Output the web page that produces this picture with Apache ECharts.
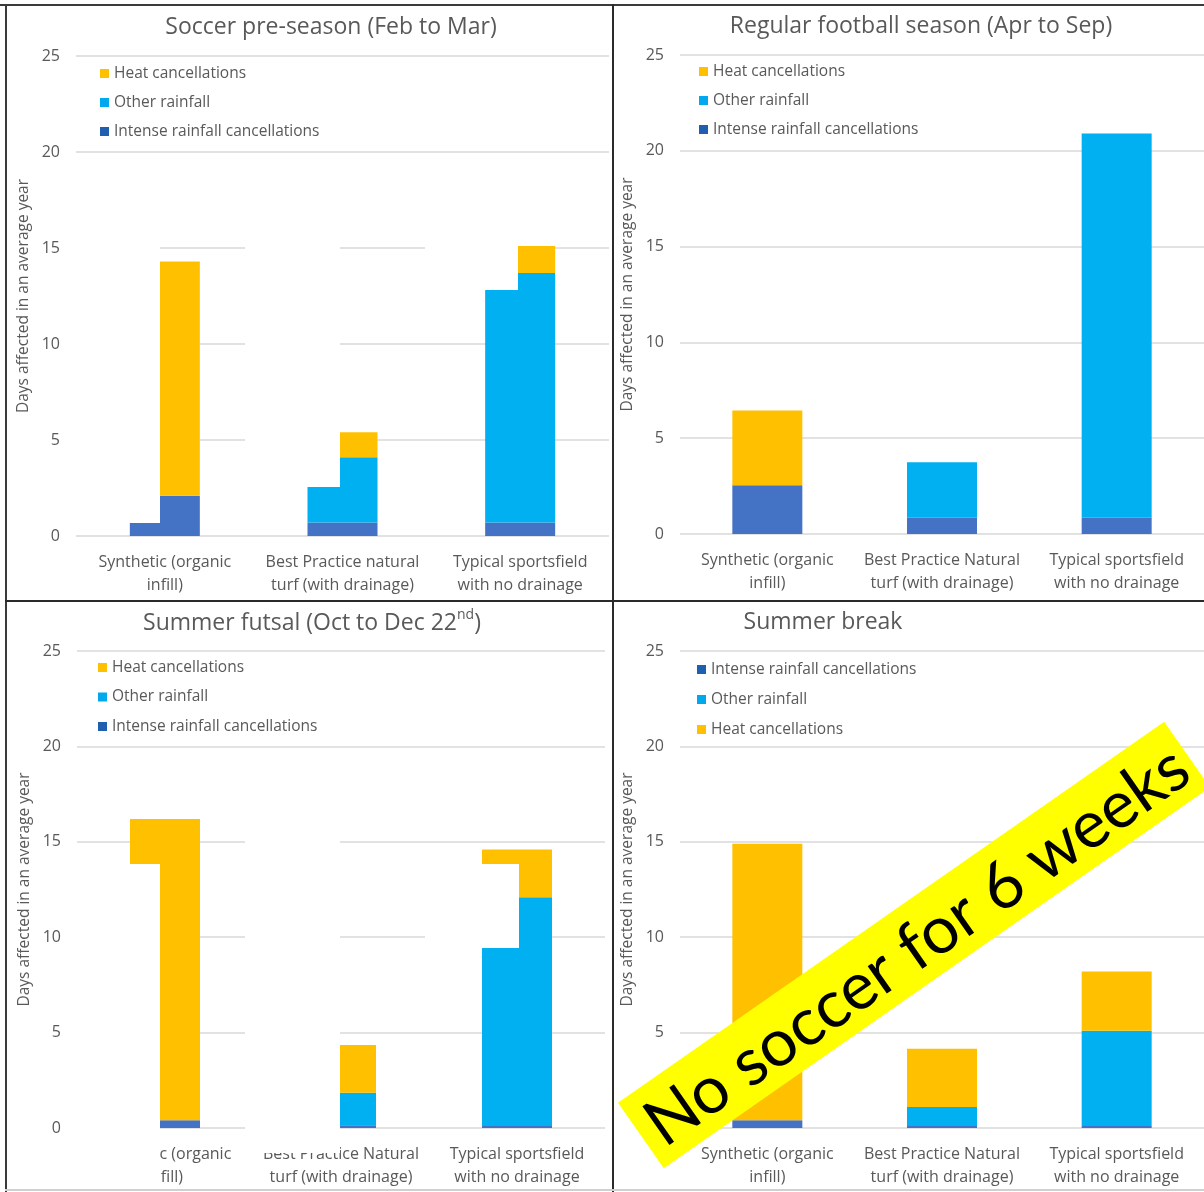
<!DOCTYPE html>
<html>
<head>
<meta charset="utf-8">
<script src="https://cdn.jsdelivr.net/npm/echarts@6/dist/echarts.min.js"></script>
<style>
  html, body { margin: 0; padding: 0; background: #fff; }
  #chart { width: 1204px; height: 1192px; }
</style>
</head>
<body>
<div id="chart"></div>
<script>
// category labels (the pre-season chart has a lower-case "natural")
const catsPreSeason = ['Synthetic (organic\ninfill)', 'Best Practice natural\nturf (with drainage)', 'Typical sportsfield\nwith no drainage']
const catsOther = ['Synthetic (organic\ninfill)', 'Best Practice Natural\nturf (with drainage)', 'Typical sportsfield\nwith no drainage']

// y axis ticks: 0 .. 25 step 5
const yMin = 0
const yMax = 25
const yStep = 5

const INTENSE = 'Intense rainfall cancellations'
const OTHER = 'Other rainfall'
const HEAT = 'Heat cancellations'

// days affected in an average year: [synthetic, best practice, typical]
const preIntense = [2.1, 0.7, 0.7]
const preOther = [0, 3.4, 13.0]
const preHeat = [12.2, 1.3, 1.4]

const regIntense = [2.55, 0.85, 0.85]
const regOther = [0, 2.9, 20.05]
const regHeat = [3.9, 0, 0]

const futIntense = [0.4, 0.15, 0.1]
const futOther = [0, 1.7, 12.0]
const futHeat = [15.8, 2.5, 2.5]

const brkIntense = [0.4, 0.1, 0.1]
const brkOther = [0, 1.0, 5.0]
const brkHeat = [14.5, 3.05, 3.1]

const colors = { [INTENSE]: '#4472C4', [OTHER]: '#00B0F0', [HEAT]: '#FFC000' }
const legendIconColors = { [INTENSE]: '#1F5FB0', [OTHER]: '#00A8EE', [HEAT]: '#FFC000' }
const textColor = '#595959'
const fontFamily = '"Open Sans", Lato, sans-serif'

const panels = [
  {
    title: 'Soccer pre-season (Feb to Mar)', titleX: 331, titleY: 12,
    grid: { left: 76, top: 56, width: 533, height: 480 },
    cats: catsPreSeason, data: [preIntense, preOther, preHeat],
    legendX: 100, legendY: 64, legendGap: 10, legendOrder: [HEAT, OTHER, INTENSE],
  },
  {
    title: 'Regular football season (Apr to Sep)', titleX: 921, titleY: 11,
    grid: { left: 680, top: 55, width: 533, height: 479 },
    cats: catsOther, data: [regIntense, regOther, regHeat],
    legendX: 699, legendY: 62, legendGap: 10, legendOrder: [HEAT, OTHER, INTENSE],
  },
  {
    title: 'Summer futsal (Oct to Dec 22{sup|nd})', titleX: 312, titleY: 608,
    grid: { left: 77, top: 651, width: 528, height: 477 },
    cats: catsOther, data: [futIntense, futOther, futHeat],
    legendX: 98, legendY: 658, legendGap: 10.5, legendOrder: [HEAT, OTHER, INTENSE],
  },
  {
    title: 'Summer break', titleX: 823, titleY: 607,
    grid: { left: 680, top: 651, width: 530, height: 477 },
    cats: catsOther, data: [brkIntense, brkOther, brkHeat],
    legendX: 697, legendY: 660, legendGap: 11, legendOrder: [INTENSE, OTHER, HEAT],
  },
]

// white patches that blank out parts of the original screenshot [x, y, w, h]
const whiteouts = [
  [62, 200, 98, 323],
  [245, 200, 95, 287],
  [425, 200, 93, 90],
  [62, 864, 98, 322],
  [245, 800, 95, 353],
  [425, 864, 94, 84],
]

const chart = echarts.init(document.getElementById('chart'), null, { renderer: 'canvas' })

const series = []
panels.forEach((p, i) => {
  ;[INTENSE, OTHER, HEAT].forEach((name, k) => {
    series.push({
      name,
      type: 'bar',
      xAxisIndex: i,
      yAxisIndex: i,
      stack: 'p' + i,
      barWidth: 70,
      itemStyle: { color: colors[name] },
      emphasis: { disabled: true },
      data: p.data[k],
    })
  })
})

const lineEl = (x, y, w, h, color) => ({
  type: 'rect', z: 120, silent: true,
  shape: { x, y, width: w, height: h },
  style: { fill: color },
})

const graphic = [
  ...whiteouts.map(([x, y, w, h]) => ({
    type: 'rect', z: 100, silent: true,
    shape: { x, y, width: w, height: h },
    style: { fill: '#ffffff' },
  })),
  lineEl(0, 4, 1204, 2, '#3a3a3a'),
  lineEl(5, 4, 2, 1188, '#3a3a3a'),
  lineEl(612, 4, 2, 1188, '#2a2a2a'),
  lineEl(5, 600, 1199, 2, '#2a2a2a'),
  lineEl(5, 1189, 1199, 2, '#d0d0d0'),
  {
    type: 'group', z: 130,
    x: 914, y: 945,
    rotation: 34.9 * Math.PI / 180,
    children: [
      {
        type: 'rect', z: 130, silent: true,
        shape: { x: -333, y: -40, width: 666, height: 80 },
        style: { fill: '#FFFF00' },
      },
      {
        type: 'text', z: 131, silent: true,
        style: {
          text: 'No soccer for 6 weeks',
          x: 2, y: 3,
          textAlign: 'center', textVerticalAlign: 'middle',
          align: 'center', verticalAlign: 'middle',
          fontSize: 66, fontFamily: 'Lato, "Open Sans", sans-serif',
          fill: '#000000',
        },
      },
    ],
  },
]

const option = {
  animation: false,
  backgroundColor: '#ffffff',
  textStyle: { fontFamily },
  title: panels.map(p => ({
    text: p.title,
    left: p.titleX,
    top: p.titleY,
    textAlign: 'center',
    padding: 0,
    textStyle: {
      fontFamily, fontSize: 23, fontWeight: 'normal', color: textColor, lineHeight: 30,
      rich: { sup: { fontFamily, fontSize: 14, color: textColor, verticalAlign: 'top', lineHeight: 16 } },
    },
  })),
  legend: panels.map(p => ({
    orient: 'vertical',
    left: p.legendX,
    top: p.legendY,
    padding: 0,
    itemWidth: 9,
    itemHeight: 9,
    itemGap: p.legendGap,
    icon: 'rect',
    selectedMode: false,
    textStyle: { fontFamily, fontSize: 15.5, color: textColor, lineHeight: 19 },
    data: p.legendOrder.map(n => ({ name: n, itemStyle: { color: legendIconColors[n] } })),
  })),
  grid: panels.map(p => ({ ...p.grid, containLabel: false })),
  xAxis: panels.map((p, i) => ({
    type: 'category',
    gridIndex: i,
    data: p.cats,
    axisLine: { show: false },
    axisTick: { show: false },
    axisLabel: { interval: 0, fontFamily, fontSize: 16, color: textColor, lineHeight: 23, margin: 15 },
  })),
  yAxis: panels.map((p, i) => ({
    type: 'value',
    gridIndex: i,
    min: yMin,
    max: yMax,
    interval: yStep,
    name: 'Days affected in an average year',
    nameLocation: 'middle',
    nameGap: 44,
    nameTextStyle: { fontFamily, fontSize: 15.5, color: textColor },
    axisLine: { show: false },
    axisTick: { show: false },
    axisLabel: { fontFamily, fontSize: 16, color: textColor, margin: 16 },
    splitLine: { lineStyle: { color: '#D9D9D9', width: 1.5 } },
  })),
  series,
  graphic: { elements: graphic },
}

chart.setOption(option)
</script>
</body>
</html>
